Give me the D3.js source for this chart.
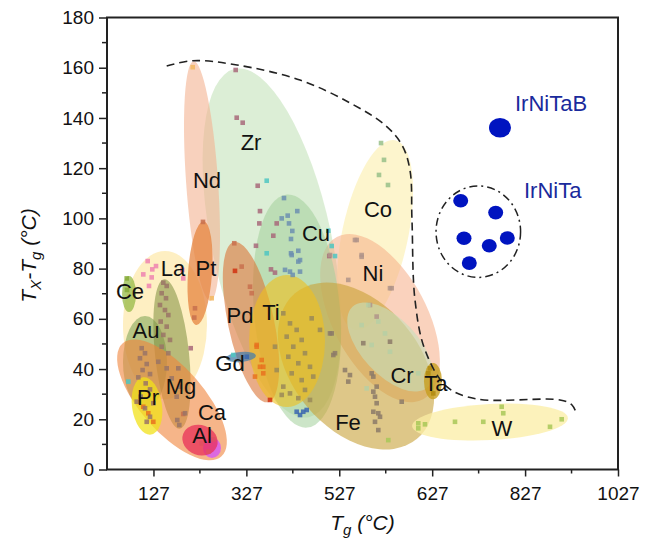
<!DOCTYPE html>
<html><head><meta charset="utf-8">
<script src="https://cdn.jsdelivr.net/npm/d3@7/dist/d3.min.js"></script>
<style>
body{margin:0;background:#fff}
text{font-family:"Liberation Sans",Arial,Helvetica,sans-serif}
</style>
</head><body>
<svg id="chart" width="653" height="548"></svg>
<script>
// ---------------- DATA ----------------
const xTickValues = [127, 327, 527, 727, 927, 1127];
const xTickLabels = ["127", "327", "527", "627", "827", "1027"];
const xMinorValues = [227, 427, 627, 827, 1027];
const yTickValues = [0, 20, 40, 60, 80, 100, 120, 140, 160, 180];
const yMinorValues = [10, 30, 50, 70, 90, 110, 130, 150, 170];

// alloy-family regions: [name, Tg centre, ΔT centre, Tg half-width, ΔT half-height, tilt]
const regions = [
  ["Zr", 382, 90.2, 129, 70.9, -12],
  ["Co", 604, 93.4, 71, 38.6, 12],
  ["Nd", 231.5, 114.9, 34.4, 47.8, -4],
  ["La", 151.8, 57.5, 90.4, 29.5, 0],
  ["Ni", 614.7, 60.3, 101.2, 36.6, -28],
  ["Cu", 436, 63.1, 92.6, 46.6, -5],
  ["Pd", 337, 58.7, 49.5, 32.6, -12],
  ["Pt", 227.2, 78.2, 25.8, 20.7, 4],
  ["Fe", 563, 41.2, 137, 37.8, -40],
  ["Ti", 414.5, 51.2, 81.8, 26.3, 0],
  ["Cr", 636.2, 48.8, 60.3, 21.9, -43],
  ["Au", 108.8, 42.8, 47.4, 18.3, 0],
  ["Mg", 166.9, 46.0, 36.6, 29.9, -6],
  ["Ca", 166.9, 27.7, 68.9, 29.9, -41],
  ["Pr", 113.1, 25.3, 32.3, 11.5, -8],
  ["AlB", 253, 8.6, 19.4, 4.0, 0],
  ["Al", 227.2, 11.7, 38.7, 6.0, 20],
  ["Ce", 74.4, 69.9, 15, 7.2, 0],
  ["Gd", 315.4, 44.8, 32.3, 2.0, -5],
  ["Ta", 728.7, 35.2, 19.4, 7.2, 0],
  ["W", 851.4, 18.9, 167.9, 7.2, -3]
];

// region labels: [text, Tg, ΔT]
const regionLabels = [
  ["Zr", 337, 130.4], ["Nd", 242.3, 115.3], ["Co", 610.4, 103.7], ["Cu", 476.9, 94.2],
  ["Ni", 599.6, 78.3], ["La", 169.1, 80.2], ["Pt", 240.1, 80.2], ["Ce", 76.5, 71.1],
  ["Au", 111, 55.6], ["Pd", 313.3, 61.5], ["Ti", 380, 62.7], ["Gd", 291.8, 42.4],
  ["Mg", 186.3, 33.3], ["Cr", 662, 37.6], ["Ta", 735.2, 34.4], ["Pr", 115.3, 28.9],
  ["Ca", 253, 22.9], ["Fe", 545.8, 18.9], ["W", 877.3, 16.5], ["Al", 231.5, 13.7]
];

// scattered alloy data points [Tg, ΔT]
const zrPoints = [[304,159.1],[306.2,140.1],[319.1,138.1],[351.4,113],[356.3,102.9],[354.9,98],[347.7,89.1],[392.3,98],[385,93.1],[380,79.7],[388.6,78.4],[505.5,85],[207.2,48.3]];
const ndPoints = [[211.5,160.2],[252.4,68.2]];
const ptPoints = [[233.6,98.6],[216.4,64.2],[214.9,60.5],[301,90.1],[316.9,80.8],[334.8,72.8],[338.5,70.2],[191.2,22.1]];
const cuPoints = [[408,108.1],[416,101.1],[436.6,102.9],[403.1,100],[418.8,98],[425.9,95],[423.1,91.8],[438.8,87.1],[423.1,86.1],[442.5,83.4],[410.2,79.5],[426.7,77.5],[442.5,78.8],[424.6,85.4],[438.8,82.8],[420.9,78.8]];
const bluePoints = [[435.3,23],[449.5,23],[442.5,21.7],[456.9,23.7],[327.7,44.9]];
const tealPoints = [[370.8,115],[370.8,86.1],[503.4,95.1],[510.7,89],[517.8,85],[298.9,45.6],[72.9,35]];
const redPoints = [[302.5,79.1],[377.9,27.7]];
const orangePoints = [[349.2,49.6],[360,43.6],[356.3,40.9],[363.4,38.3],[345.6,37],[349.2,48.9],[363.4,40.9],[105.1,25],[115.9,22.4],[126.7,19]];
const tiPoints = [[406.5,62.2],[420.9,58.2],[435.3,55.6],[413.8,52.9],[446.1,51.6],[428,48.9],[453.2,46.3],[417.3,44.9],[438.8,42.3],[464,40.9],[424.6,38.3],[446.1,35.6],[406.5,33],[420.9,30.3],[438.8,28.4],[464,27.7],[403.1,29.7],[453.2,31.7],[471,37],[392.3,39.6],[388.6,48.9],[467.6,60.2],[485.5,55.6]];
const fePoints = [[600.3,37],[607.5,33],[603.9,29],[607.5,26.4],[600.3,23],[614.7,21],[546.4,35],[507,54.2],[514.2,45.6],[539.3,39.6],[636.2,50.9],[661.4,27],[578.7,50.3],[596.8,38.3],[600.3,31],[611,22.4],[603.9,19],[611,15.7],[550,37.6],[517.8,46.3],[510.7,54.2]];
const niPoints = [[564.5,91.4],[575.2,85.4],[546.4,75.5],[639.8,72.2],[507,85.4],[593.1,65.5],[607.5,60.9],[560.8,91.4],[575.2,84.7],[636.2,72.2]];
const crPoints = [[589.5,65.5],[611,58.9],[575.2,57.5],[625.4,54.2],[596.8,49.6],[636.2,46.9],[697.1,38.3],[585.9,32.3]];
const coPoints = [[616.9,130],[623.3,123.3],[612.5,117.3],[631.9,113.3]];
const taPoints = [[722.3,40.3],[718.6,38.3],[729.4,30.3]];
const wPoints = [[876.6,25],[880,22.4],[776.1,19],[837,19],[697.1,18.4],[697.1,16.4],[711.5,18],[980.6,17],[1005.8,20],[632.5,11.7]];
const laPoints = [[114.6,83],[124.5,79.7],[105.1,77.7],[123.2,76.5],[117.4,73.1],[189.1,79.5],[191.2,76.1],[132.5,81]];
const cePoints = [[69.4,76.1],[70,71.5]];
const mgPoints = [[148.2,74.4],[155.5,73.1],[144.7,70.2],[154,68.2],[141,65.5],[151.8,63.5],[159,61.5],[142.6,58.9],[155.5,56.9],[148.2,53.6],[162.6,51.6],[144.7,48.9],[159,46.3],[137.4,42.9],[155.5,40.3],[180.5,40.3],[166.3,36.3],[184,33],[177,29],[194.9,22.4],[178.3,19.7],[182.6,17.7],[101.7,48.3],[108.8,46.3],[98,44.3],[112.5,42],[103.6,39.6],[119.6,38],[94.4,36.7],[110.3,34.3],[119.6,31.9],[99.5,29],[90.9,27],[126.7,26.4],[108.8,24.4],[119.6,21],[112.5,19]];
const alPoints = [[230.8,10.4],[245.1,7.1],[255.8,12]];

// new IrNi-based glasses
const irNiTaB = [[873, 136.1]];
const irNiTa = [[788.4,107],[863.7,102.3],[795.5,92.1],[849.9,89.1],[888.7,92.2],[806.9,82.2]];
const irNiTaRing = [826.3, 94.7, 91, 18.2];

// dashed boundary of conventional glasses [Tg, ΔT]
const boundary = [[155.5,160.7],[212.1,162.8],[306.8,161.1],[442.5,155.1],[550,146],[625.4,137.2],[662,129.2],[679.2,119.2],[683.5,99.4],[690,67.5],[711.6,47.6],[758.3,33],[822.8,28.1],[1002,27.7],[1028,25.7],[1038.7,21.7]];

// ---------------- STYLES ----------------
const regionColor = {
  Zr:["#c4e3bb",0.6], Co:["#fdf2c0",0.8], Nd:["#f4b391",0.6], La:["#fde49a",0.6],
  Ni:["#f6ad86",0.55], Cu:["#a3d09a",0.55], Pd:["#db7537",0.6], Pt:["#e5843f",0.75],
  Fe:["#c8a238",0.6], Ti:["#f0bf1c",0.6], Cr:["#c6dfba",0.6], Au:["#6c9a45",0.5],
  Mg:["#7d8e3e",0.55], Ca:["#f0843a",0.6], Pr:["#f2e21a",0.75], AlB:["#d65cf0",0.85],
  Al:["#e8305a",0.75], Ce:["#95ba45",0.75], Gd:["#4a7fa8",0.75], Ta:["#c79e1e",0.8],
  W:["#fbeea4",0.75]
};
const pointGroups = [
  [zrPoints,"#a8687a"], [ndPoints,"#f2b860"], [ptPoints,"#c8704e"], [cuPoints,"#6c8fb0"],
  [bluePoints,"#3a66b0"], [tealPoints,"#4fc6c2"], [redPoints,"#d0300f"], [orangePoints,"#e8721f"],
  [tiPoints,"#9a8a58"], [fePoints,"#8c7a68"], [niPoints,"#b0948a"], [crPoints,"#b6cfa4"],
  [coPoints,"#98c088"], [taPoints,"#b08a10"], [wPoints,"#a8c858"], [laPoints,"#ee82b0"],
  [cePoints,"#86aa38"], [mgPoints,"#9a7466"], [alPoints,"#e05060"]
];

// ---------------- DRAW ----------------
const svg = d3.select("#chart");
const L = 107, R = 618, T = 17.5, B = 469.5;
const x = d3.scaleLinear().domain([27, 1127]).range([L, R]);
const y = d3.scaleLinear().domain([0, 180]).range([B, T]);

const plot = svg.append("g");

// regions
plot.selectAll("g.region").data(regions).join("g")
  .attr("transform", d => `translate(${x(d[1])},${y(d[2])}) rotate(${d[5]})`)
  .append("ellipse")
  .attr("rx", d => x(d[1] + d[3]) - x(d[1]))
  .attr("ry", d => y(0) - y(d[4]))
  .attr("fill", d => regionColor[d[0]][0])
  .attr("fill-opacity", d => regionColor[d[0]][1]);

// points
pointGroups.forEach(([pts, col]) => {
  plot.append("g").selectAll("rect").data(pts).join("rect")
    .attr("x", d => x(d[0]) - 2.3).attr("y", d => y(d[1]) - 2.3)
    .attr("width", 4.6).attr("height", 4.6)
    .attr("fill", col).attr("fill-opacity", 0.85);
});

// dashed boundary
plot.append("path").datum(boundary)
  .attr("d", d3.line().x(d => x(d[0])).y(d => y(d[1])).curve(d3.curveCatmullRom.alpha(0.5)))
  .attr("fill", "none").attr("stroke", "#222").attr("stroke-width", 1.6)
  .attr("stroke-dasharray", "8,5");

// IrNiTa ring
plot.append("ellipse")
  .attr("cx", x(irNiTaRing[0])).attr("cy", y(irNiTaRing[1]))
  .attr("rx", x(irNiTaRing[0] + irNiTaRing[2]) - x(irNiTaRing[0]))
  .attr("ry", y(0) - y(irNiTaRing[3]))
  .attr("fill", "none").attr("stroke", "#222").attr("stroke-width", 1.5)
  .attr("stroke-dasharray", "8,4,2,4");

plot.selectAll("ellipse.irta").data(irNiTa).join("ellipse").attr("class", "irta")
  .attr("cx", d => x(d[0])).attr("cy", d => y(d[1]))
  .attr("rx", 7.5).attr("ry", 6.8).attr("fill", "#0014c0");
plot.selectAll("ellipse.irtab").data(irNiTaB).join("ellipse").attr("class", "irtab")
  .attr("cx", d => x(d[0])).attr("cy", d => y(d[1]))
  .attr("rx", 11).attr("ry", 9.8).attr("fill", "#0014c0");

plot.append("text").attr("x", x(905.3)).attr("y", y(142.7))
  .attr("font-size", 22).attr("fill", "#1a2a9c").text("IrNiTaB");
plot.append("text").attr("x", x(924.6)).attr("y", y(108.1))
  .attr("font-size", 22).attr("fill", "#1a2a9c").text("IrNiTa");

// region labels
plot.selectAll("text.lbl").data(regionLabels).join("text").attr("class", "lbl")
  .attr("x", d => x(d[1])).attr("y", d => y(d[2])).attr("dy", "0.36em")
  .attr("text-anchor", "middle").attr("font-size", 22).attr("fill", "#111")
  .text(d => d[0]);

// frame
svg.append("rect").attr("x", L).attr("y", T).attr("width", R - L).attr("height", B - T)
  .attr("fill", "none").attr("stroke", "#222").attr("stroke-width", 2);

// axes
const xAxis = d3.axisBottom(x).tickValues(xTickValues).tickSize(7).tickPadding(10)
  .tickFormat((d, i) => xTickLabels[i]);
const gx = svg.append("g").attr("transform", `translate(0,${B})`).call(xAxis);
gx.append("g").selectAll("line").data(xMinorValues).join("line")
  .attr("x1", d => x(d)).attr("x2", d => x(d)).attr("y1", 0).attr("y2", 4)
  .attr("stroke", "#222").attr("stroke-width", 1.5);

const yAxis = d3.axisLeft(y).tickValues(yTickValues).tickSize(8).tickPadding(5);
const gy = svg.append("g").attr("transform", `translate(${L},0)`).call(yAxis);
gy.append("g").selectAll("line").data(yMinorValues).join("line")
  .attr("y1", d => y(d)).attr("y2", d => y(d)).attr("x1", 0).attr("x2", -5)
  .attr("stroke", "#222").attr("stroke-width", 1.5);

[gx, gy].forEach(g => {
  g.select(".domain").remove();
  g.selectAll(".tick line").attr("stroke", "#222").attr("stroke-width", 1.5);
  g.selectAll(".tick text").attr("font-size", 19).attr("fill", "#111")
    .attr("font-family", "'Liberation Sans', Arial, sans-serif");
});

// axis titles
const xt = svg.append("text").attr("x", (L + R) / 2).attr("y", 530)
  .attr("text-anchor", "middle").attr("font-size", 21).attr("font-style", "italic").attr("fill", "#111");
xt.append("tspan").text("T");
xt.append("tspan").attr("font-size", 15).attr("dy", 5).text("g");
xt.append("tspan").attr("dy", -5).text(" (°C)");

const yt = svg.append("text").attr("transform", `translate(36,${(T + B) / 2 + 12}) rotate(-90)`)
  .attr("text-anchor", "middle").attr("font-size", 21).attr("font-style", "italic").attr("fill", "#111");
yt.append("tspan").text("T");
yt.append("tspan").attr("font-size", 15).attr("dy", 5).text("X");
yt.append("tspan").attr("dy", -5).text("-T");
yt.append("tspan").attr("font-size", 15).attr("dy", 5).text("g");
yt.append("tspan").attr("dy", -5).text(" (°C)");
</script>
</body></html>
